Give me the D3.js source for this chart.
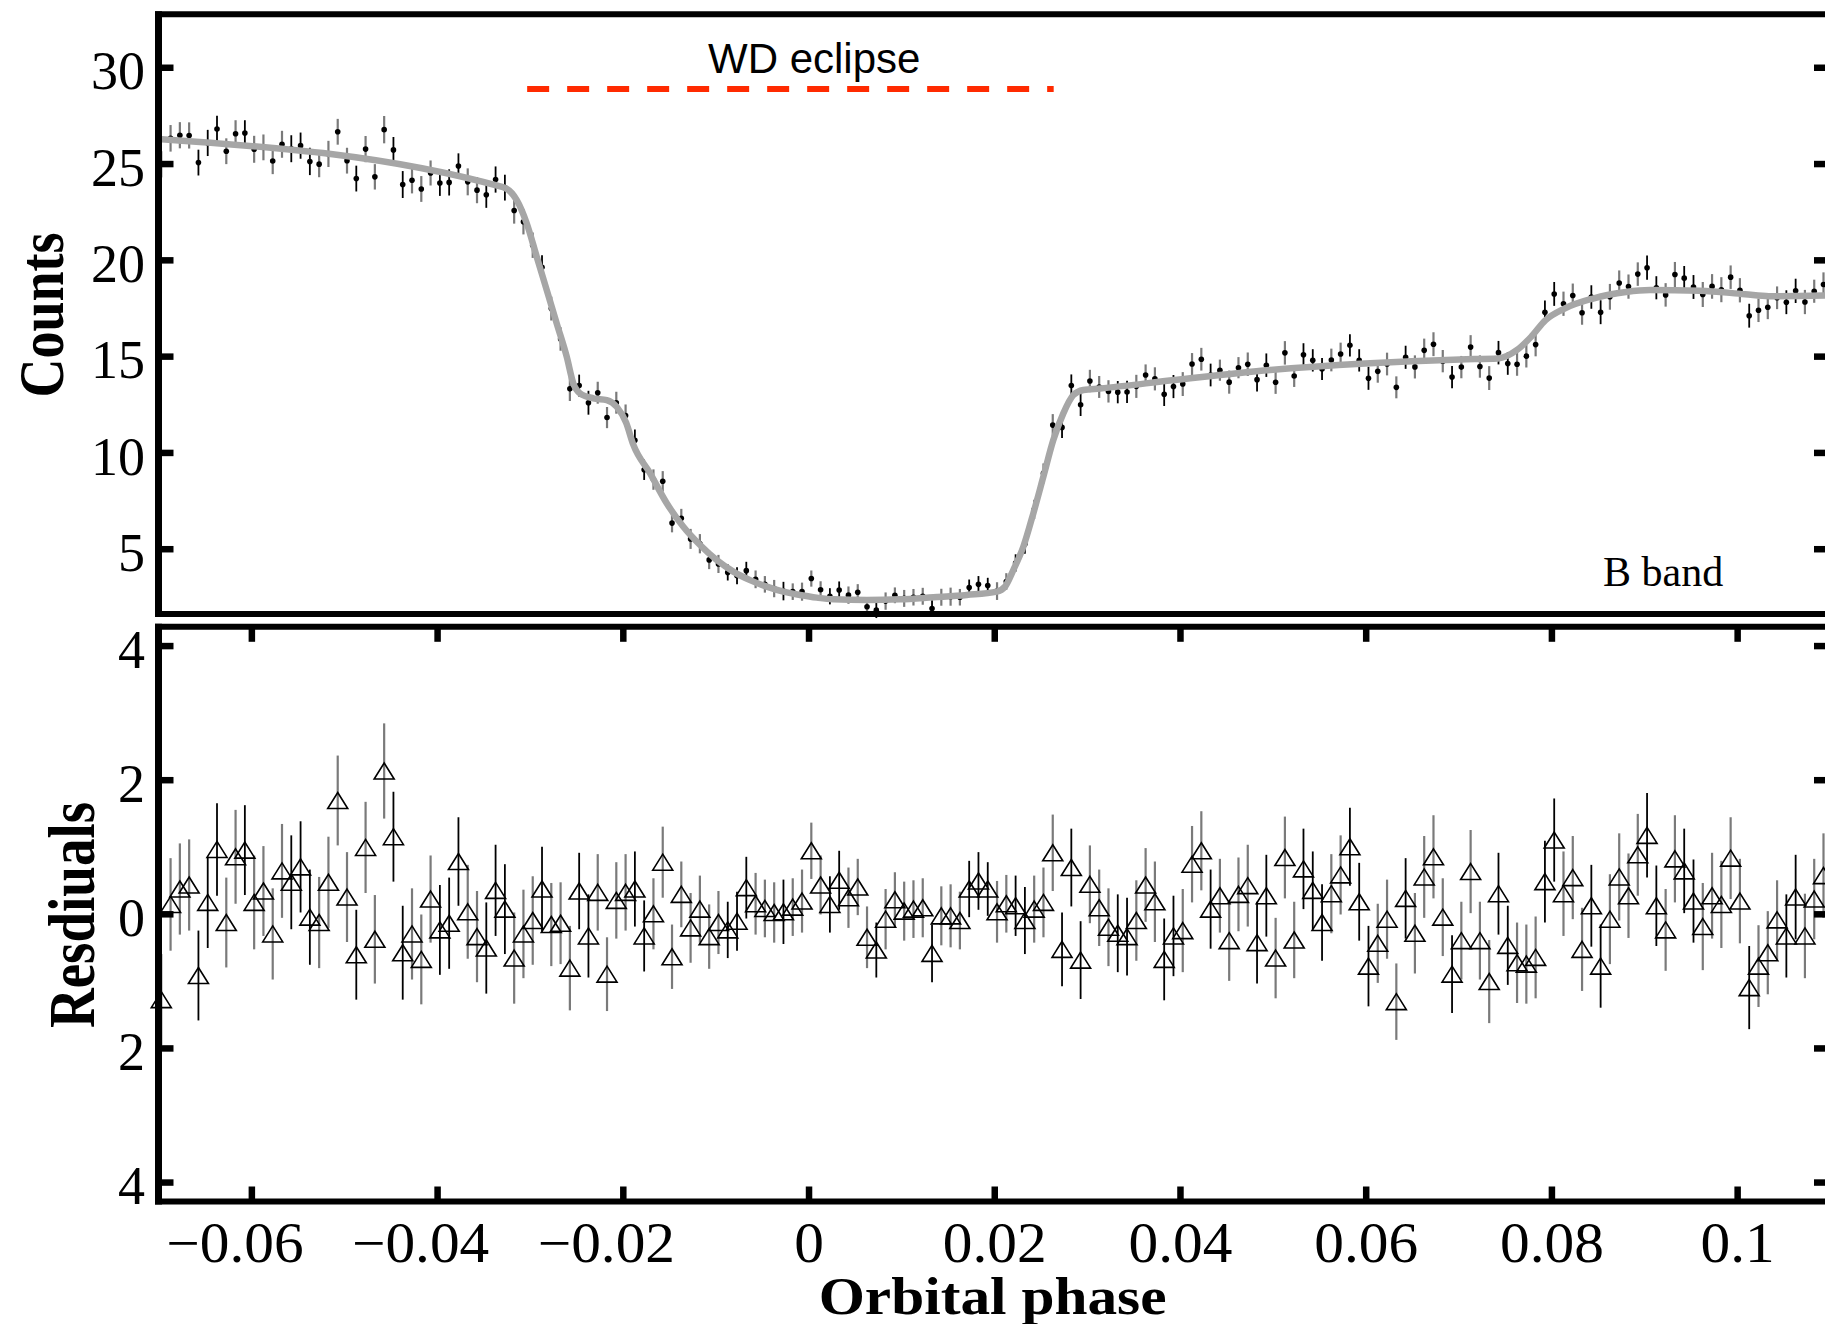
<!DOCTYPE html>
<meta charset="utf-8">
<style>
body { margin: 0; background: #fff; }
svg { display: block; background: #fff; }
text { font-family: "Liberation Serif", "Times New Roman", serif; fill: #000; }
.axis path.domain { display: none; }
.axis line { stroke: #000; stroke-width: 6.5; }
.ylab text { font-size: 54px; }
.xlab text { font-size: 56px; }
.title { font-weight: bold; }
</style>
<svg width="1825" height="1324"></svg>
<script src="https://d3js.org/d3.v7.min.js"></script>
<script>

// orbital phase of every exposure
var phase = [
  -0.0697,-0.0687,-0.0677,-0.0667,-0.0657,-0.0647,-0.0637,-0.0627,-0.0617,-0.0607,
  -0.0597,-0.0587,-0.0577,-0.0567,-0.0557,-0.0547,-0.0537,-0.0527,-0.0517,-0.0507,
  -0.0497,-0.0487,-0.0477,-0.0467,-0.0457,-0.0447,-0.0437,-0.0427,-0.0417,-0.0407,
  -0.0397,-0.0387,-0.0377,-0.0367,-0.0357,-0.0347,-0.0337,-0.0327,-0.0317,-0.0307,
  -0.0297,-0.0287,-0.0277,-0.0267,-0.0257,-0.0247,-0.0237,-0.0227,-0.0217,-0.0207,
  -0.0197,-0.0187,-0.0177,-0.0167,-0.0157,-0.0147,-0.0137,-0.0127,-0.0117,-0.0107,
  -0.0097,-0.0087,-0.0077,-0.0067,-0.0057,-0.0047,-0.0037,-0.0027,-0.0017,-0.0007,
  0.0003,0.0013,0.0023,0.0033,0.0043,0.0053,0.0063,0.0073,0.0083,0.0093,
  0.0103,0.0113,0.0123,0.0133,0.0143,0.0153,0.0163,0.0173,0.0183,0.0193,
  0.0203,0.0213,0.0223,0.0233,0.0243,0.0253,0.0263,0.0273,0.0283,0.0293,
  0.0303,0.0313,0.0323,0.0333,0.0343,0.0353,0.0363,0.0373,0.0383,0.0393,
  0.0403,0.0413,0.0423,0.0433,0.0443,0.0453,0.0463,0.0473,0.0483,0.0493,
  0.0503,0.0513,0.0523,0.0533,0.0543,0.0553,0.0563,0.0573,0.0583,0.0593,
  0.0603,0.0613,0.0623,0.0633,0.0643,0.0653,0.0663,0.0673,0.0683,0.0693,
  0.0703,0.0713,0.0723,0.0733,0.0743,0.0753,0.0763,0.0773,0.0783,0.0793,
  0.0803,0.0813,0.0823,0.0833,0.0843,0.0853,0.0863,0.0873,0.0883,0.0893,
  0.0903,0.0913,0.0923,0.0933,0.0943,0.0953,0.0963,0.0973,0.0983,0.0993,
  0.1003,0.1013,0.1023,0.1033,0.1043,0.1053,0.1063,0.1073,0.1083,0.1093
];

// B band counts
var counts = [
  24.96,26.31,26.47,26.46,25.05,26.07,26.79,25.64,26.55,26.58,
  25.74,25.84,25.13,26.00,25.77,25.93,25.11,24.97,25.50,26.65,
  25.15,24.22,25.75,24.31,26.76,25.71,23.91,24.13,23.68,24.51,
  23.99,24.02,24.87,24.05,23.62,23.38,24.17,23.75,22.56,21.98,
  20.76,19.61,17.47,15.89,13.30,13.47,12.58,13.10,11.81,12.58,
  11.92,10.63,9.10,8.59,8.50,6.33,6.58,5.51,5.26,4.42,
  4.21,3.77,3.60,3.86,3.41,3.15,2.93,2.80,2.77,2.77,
  3.45,2.87,2.53,2.86,2.59,2.74,1.99,1.81,2.28,2.58,
  2.42,2.48,2.53,1.89,2.48,2.51,2.48,2.98,3.15,3.09,
  2.80,3.30,4.26,5.24,7.04,8.91,11.42,11.30,13.47,12.47,
  13.71,13.40,13.17,13.13,13.14,13.43,14.02,13.82,13.02,13.42,
  13.55,14.59,14.84,14.02,14.27,13.65,14.40,14.58,13.78,14.53,
  13.64,15.17,13.97,15.07,14.78,14.33,14.80,15.11,15.56,14.78,
  13.85,14.21,14.59,13.38,14.94,14.44,15.30,15.62,14.74,13.91,
  14.43,15.47,14.46,13.86,15.18,14.62,14.58,15.00,15.60,17.28,
  18.23,17.72,18.15,17.25,18.07,17.28,18.08,18.80,18.61,19.26,
  19.59,18.55,18.18,19.24,19.05,18.59,18.20,18.62,18.45,19.10,
  18.42,17.10,17.38,17.54,18.03,17.80,18.39,17.81,18.37,18.72
];

// 1-sigma errors (same for counts and residuals)
var errors = [
  0.68,0.69,0.68,0.68,0.67,0.68,0.69,0.67,0.70,0.67,
  0.70,0.67,0.68,0.70,0.70,0.68,0.71,0.68,0.68,0.67,
  0.67,0.67,0.68,0.66,0.71,0.67,0.70,0.68,0.67,0.65,
  0.67,0.68,0.66,0.70,0.68,0.68,0.68,0.67,0.68,0.66,
  0.66,0.63,0.62,0.61,0.63,0.57,0.62,0.57,0.55,0.57,
  0.57,0.56,0.53,0.53,0.53,0.48,0.49,0.52,0.50,0.48,
  0.47,0.42,0.44,0.46,0.46,0.43,0.45,0.48,0.43,0.47,
  0.42,0.44,0.42,0.44,0.45,0.42,0.46,0.41,0.45,0.41,
  0.44,0.43,0.44,0.43,0.44,0.47,0.43,0.42,0.43,0.40,
  0.46,0.43,0.45,0.50,0.50,0.52,0.57,0.55,0.58,0.58,
  0.58,0.57,0.58,0.58,0.58,0.60,0.55,0.60,0.61,0.60,
  0.62,0.57,0.59,0.59,0.55,0.60,0.55,0.61,0.61,0.61,
  0.60,0.61,0.57,0.60,0.58,0.57,0.59,0.59,0.58,0.58,
  0.60,0.59,0.59,0.57,0.60,0.60,0.61,0.62,0.58,0.58,
  0.58,0.62,0.58,0.62,0.61,0.59,0.60,0.59,0.61,0.61,
  0.62,0.63,0.62,0.62,0.61,0.62,0.67,0.65,0.63,0.61,
  0.63,0.60,0.61,0.65,0.63,0.62,0.65,0.64,0.65,0.61,
  0.63,0.62,0.61,0.62,0.59,0.62,0.63,0.63,0.60,0.63
];

// residuals (data - model)
var resid = [
  -1.28,0.14,0.37,0.43,-0.92,0.17,0.96,-0.13,0.85,0.95,
  0.17,0.34,-0.30,0.64,0.47,0.70,-0.05,-0.13,0.47,1.69,
  0.25,-0.61,0.99,-0.38,2.13,1.15,-0.58,-0.30,-0.68,0.22,
  -0.24,-0.14,0.78,0.03,-0.34,-0.51,0.35,0.07,-0.66,-0.30,
  -0.10,0.37,-0.16,-0.14,-0.81,0.34,-0.33,0.32,-0.90,0.20,
  0.32,0.37,-0.33,0.00,0.77,-0.64,0.29,-0.21,0.07,-0.34,
  -0.13,-0.24,-0.11,0.39,0.15,0.08,0.02,0.03,0.10,0.19,
  0.94,0.43,0.14,0.50,0.24,0.40,-0.35,-0.54,-0.08,0.21,
  0.04,0.07,0.09,-0.59,-0.03,-0.03,-0.10,0.37,0.49,0.37,
  0.03,0.15,0.12,-0.10,0.07,0.17,0.91,-0.53,0.69,-0.69,
  0.44,0.09,-0.20,-0.29,-0.34,-0.10,0.43,0.18,-0.68,-0.33,
  -0.25,0.74,0.94,0.07,0.27,-0.40,0.29,0.42,-0.43,0.27,
  -0.66,0.84,-0.39,0.67,0.35,-0.13,0.30,0.58,1.00,0.18,
  -0.78,-0.44,-0.08,-1.31,0.23,-0.29,0.55,0.85,-0.05,-0.90,
  -0.40,0.63,-0.40,-1.01,0.30,-0.47,-0.73,-0.75,-0.65,0.48,
  1.10,0.30,0.54,-0.53,0.12,-0.78,-0.08,0.55,0.27,0.88,
  1.17,0.12,-0.24,0.82,0.64,0.19,-0.19,0.27,0.14,0.83,
  0.19,-1.10,-0.78,-0.58,-0.09,-0.33,0.25,-0.33,0.22,0.57
];

// observing run of each point (0 = black bars, 1 = grey bars)
var run = [
  1,1,1,1,0,0,0,1,1,0, 1,1,1,1,0,0,0,1,1,1, 1,0,1,1,1,0,0,1,1,1,
  0,0,0,1,1,0,0,0,1,1, 1,0,1,1,1,0,0,1,1,1, 1,0,0,1,1,1,1,1,1,1,
  1,0,0,0,1,1,1,0,1,1, 1,1,0,0,1,1,1,0,1,1, 1,1,1,0,1,1,1,0,0,0,
  1,1,0,0,1,1,1,0,0,0, 1,1,1,0,0,1,1,1,0,0, 1,1,1,0,1,1,1,1,0,0,
  1,1,1,0,0,0,1,1,0,0, 0,1,1,1,0,1,1,1,1,0, 1,1,1,1,0,0,1,1,1,0,
  0,1,1,1,0,0,1,1,1,1, 0,0,1,1,0,0,1,1,1,1, 1,0,1,1,1,0,0,1,1,1
];

// light-curve model
var modelPhase = [-0.0700,-0.0329,-0.03142,-0.03035,-0.02927,-0.02819,-0.02712,-0.02604,-0.02533,-0.02461,
  -0.02317,-0.02173,-0.02066,-0.01965,-0.01887,-0.01707,-0.01527,-0.01348,-0.01168,-0.00989,
  -0.00810,-0.00630,-0.00450,-0.00271,-0.00092,0.00088,0.00267,0.00627,0.00985,0.01344,
  0.01704,0.02027,0.02116,0.02205,0.02313,0.02421,0.02529,0.02636,0.02744,0.02852,
  0.02959,0.03139,0.03947,0.04970,0.05993,0.07016,0.07425,0.07630,0.07781,0.07937,
  0.08141,0.08448,0.08803,0.09062,0.09600,0.10085,0.10343,0.1100];
var modelCounts = [26.28,23.77,23.1,21.9,20.16,18.43,16.7,14.97,13.59,13.07,
  12.81,12.72,12.37,11.55,10.4,8.92,7.36,6.14,5.19,4.41,
  3.81,3.37,3.03,2.77,2.60,2.46,2.37,2.34,2.37,2.48,
  2.60,2.77,3.03,3.89,5.10,6.84,8.74,10.64,12.03,12.98,
  13.24,13.32,13.76,14.28,14.62,14.83,14.88,15.32,16.0,16.87,
  17.47,17.99,18.33,18.43,18.40,18.21,18.11,18.15];

var eclipse = [-0.0303, 0.0264];   // WD eclipse span

var phaseTicks = [-0.06, -0.04, -0.02, 0, 0.02, 0.04, 0.06, 0.08, 0.1];
var phaseLabels = ["\u22120.06", "\u22120.04", "\u22120.02", "0", "0.02", "0.04", "0.06", "0.08", "0.1"];
var countTicks = [5, 10, 15, 20, 25, 30];
var resTicks = [-4, -2, 0, 2, 4];
var resLabels = ["4", "2", "0", "2", "4"];

var svg = d3.select("svg");

var x = d3.scaleLinear().domain([-0.07, 0.11]).range([158.5, 1830]);
var yTop = d3.scaleLinear().domain([1.61, 32.75]).range([614, 14.3]);
var yRes = d3.scaleLinear().domain([-4.29, 4.28]).range([1201.5, 626.8]);

var pts = phase.map(function(p, i) {
  return {p: p, c: counts[i], e: errors[i], r: resid[i], run: run[i]};
});

function barColour(d) { return d.run ? "#7a7a7a" : "#000"; }
function barWidth(d) { return d.run ? 2.2 : 1.8; }

// ---- top panel: light curve
var gTop = svg.append("g");

gTop.selectAll(".ebar").data(pts).enter().append("line")
    .attr("x1", function(d) { return x(d.p); })
    .attr("x2", function(d) { return x(d.p); })
    .attr("y1", function(d) { return yTop(d.c - d.e); })
    .attr("y2", function(d) { return yTop(d.c + d.e); })
    .attr("stroke", barColour)
    .attr("stroke-width", barWidth);

gTop.selectAll("circle").data(pts).enter().append("circle")
    .attr("cx", function(d) { return x(d.p); })
    .attr("cy", function(d) { return yTop(d.c); })
    .attr("r", 2.8)
    .attr("fill", "#000");

var line = d3.line()
    .x(function(d) { return x(d[0]); })
    .y(function(d) { return yTop(d[1]); })
    .curve(d3.curveMonotoneX);

gTop.append("path")
    .datum(modelPhase.map(function(p, i) { return [p, modelCounts[i]]; }))
    .attr("d", line)
    .attr("fill", "none")
    .attr("stroke", "#a6a6a6")
    .attr("stroke-width", 6.5)
    .attr("stroke-linejoin", "round");

// ---- bottom panel: residuals
var gBot = svg.append("g");

gBot.selectAll(".ebar").data(pts).enter().append("line")
    .attr("x1", function(d) { return x(d.p); })
    .attr("x2", function(d) { return x(d.p); })
    .attr("y1", function(d) { return yRes(d.r - d.e); })
    .attr("y2", function(d) { return yRes(d.r + d.e); })
    .attr("stroke", barColour)
    .attr("stroke-width", barWidth);

gBot.selectAll(".tri").data(pts).enter().append("path")
    .attr("transform", function(d) { return "translate(" + x(d.p) + "," + yRes(d.r) + ")"; })
    .attr("d", "M0,-8L10,8L-10,8Z")
    .attr("fill", "none")
    .attr("stroke", "#000")
    .attr("stroke-width", 1.6)
    .attr("stroke-linejoin", "miter");

// ---- axes
function clean(g) {
  g.attr("font-size", null).attr("font-family", null);
  g.select(".domain").remove();
}

svg.append("g").attr("class", "axis ylab")
    .attr("transform", "translate(158.5,0)")
    .call(d3.axisLeft(yTop).tickValues(countTicks).tickSizeInner(-15).tickSizeOuter(0).tickPadding(13.5))
    .call(clean)
    .selectAll("text").attr("dy", "0.4em");

svg.append("g").attr("class", "axis")
    .attr("transform", "translate(1830,0)")
    .call(d3.axisRight(yTop).tickValues(countTicks).tickSizeInner(-16).tickSizeOuter(0).tickFormat(""))
    .call(clean);

svg.append("g").attr("class", "axis ylab")
    .attr("transform", "translate(158.5,0)")
    .call(d3.axisLeft(yRes).tickValues(resTicks).tickSizeInner(-15).tickSizeOuter(0).tickPadding(13.5)
      .tickFormat(function(d, i) { return resLabels[i]; }))
    .call(clean)
    .selectAll("text").attr("dy", "0.4em");

svg.append("g").attr("class", "axis")
    .attr("transform", "translate(1830,0)")
    .call(d3.axisRight(yRes).tickValues(resTicks).tickSizeInner(-16).tickSizeOuter(0).tickFormat(""))
    .call(clean);

// negative labels: the number part sits on the tick, the minus hangs to the left
svg.append("g").attr("class", "axis xlab")
    .attr("transform", "translate(0,1201.5)")
    .call(d3.axisBottom(x).tickValues(phaseTicks).tickSizeInner(-15).tickSizeOuter(0)
      .tickFormat(function(d, i) { return phaseLabels[i]; }))
    .call(clean)
    .selectAll("text")
      .attr("x", function(d) { return d < 0 ? -16 : 0; })
      .attr("y", 61).attr("dy", 0)
      .attr("transform", "scale(1.06,1)");

svg.append("g").attr("class", "axis")
    .attr("transform", "translate(0,626.8)")
    .call(d3.axisTop(x).tickValues(phaseTicks).tickSizeInner(-15).tickSizeOuter(0).tickFormat(""))
    .call(clean);

// frames
var frames = [[14.3, 614], [626.8, 1201.5]];
frames.forEach(function(f) {
  svg.append("line").attr("x1", 155).attr("x2", 1830).attr("y1", f[0]).attr("y2", f[0])
      .attr("stroke", "#000").attr("stroke-width", 6);
  svg.append("line").attr("x1", 155).attr("x2", 1830).attr("y1", f[1]).attr("y2", f[1])
      .attr("stroke", "#000").attr("stroke-width", 6);
  svg.append("line").attr("x1", 158.5).attr("x2", 158.5).attr("y1", f[0] - 3).attr("y2", f[1] + 3)
      .attr("stroke", "#000").attr("stroke-width", 7);
});

// ---- annotations
svg.append("line")
    .attr("x1", x(eclipse[0])).attr("x2", x(eclipse[1]))
    .attr("y1", 89).attr("y2", 89)
    .attr("stroke", "#ff2a00").attr("stroke-width", 6)
    .attr("stroke-dasharray", "22 18");

svg.append("text")
    .attr("x", 708).attr("y", 72.6)
    .style("font-family", "'Liberation Sans', Arial, sans-serif")
    .style("font-size", "42px")
    .text("WD eclipse");

svg.append("text")
    .attr("x", 1603).attr("y", 585.7)
    .style("font-size", "42px")
    .text("B band");

svg.append("text").attr("class", "title")
    .attr("transform", "translate(62.5,315) scale(1.18,1) rotate(-90)")
    .attr("text-anchor", "middle")
    .style("font-size", "54px")
    .text("Counts");

svg.append("text").attr("class", "title")
    .attr("transform", "translate(94,915) scale(1.2,1) rotate(-90)")
    .attr("text-anchor", "middle")
    .style("font-size", "55px")
    .text("Resdiuals");

svg.append("text").attr("class", "title")
    .attr("transform", "translate(992.6,1314) scale(1.12,1)")
    .attr("text-anchor", "middle")
    .style("font-size", "53px")
    .text("Orbital phase");

</script>
